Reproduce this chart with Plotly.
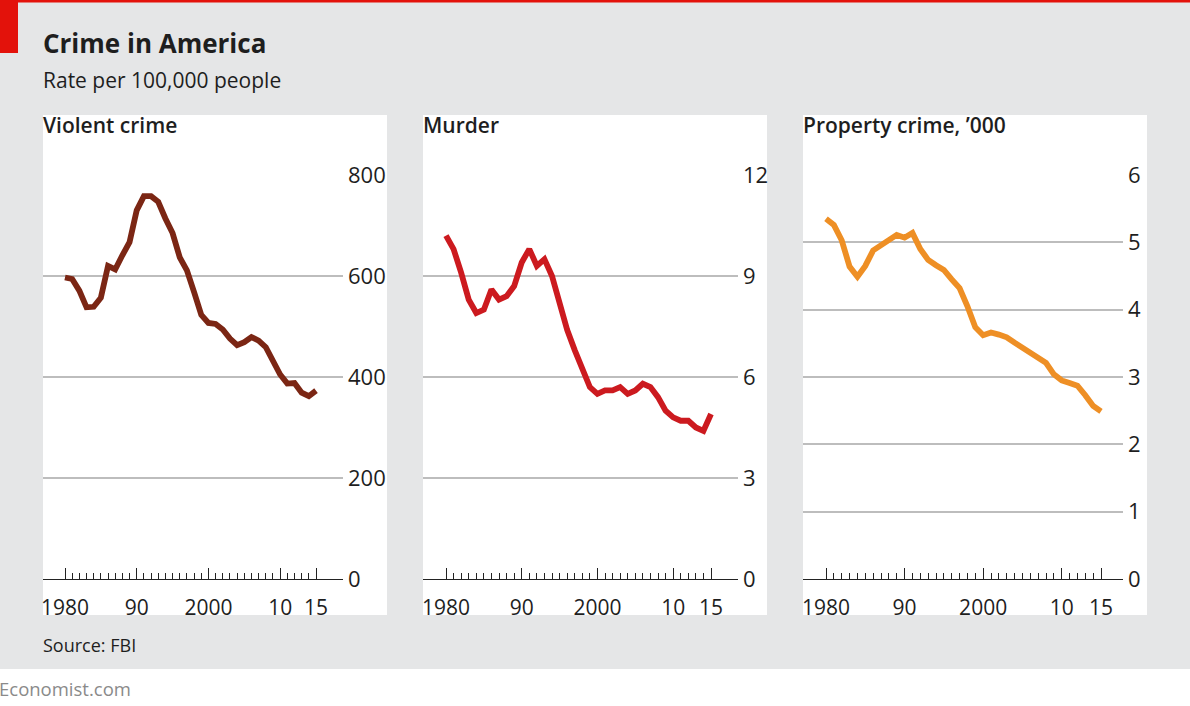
import plotly.graph_objects as go

W, H = 1190, 706

years = list(range(1980, 2016))

violent_crime = [597, 594, 571, 538, 539, 557, 620, 613, 641, 667,
                 730, 758, 758, 747, 714, 685, 637, 611, 568, 523,
                 507, 505, 494, 476, 463, 469, 479, 472, 459, 432,
                 405, 387, 388, 369, 362, 373]

murder = [10.2, 9.8, 9.1, 8.3, 7.9, 8.0, 8.6, 8.3, 8.4, 8.7,
          9.4, 9.8, 9.3, 9.5, 9.0, 8.2, 7.4, 6.8, 6.3, 5.7,
          5.5, 5.6, 5.6, 5.7, 5.5, 5.6, 5.8, 5.7, 5.4, 5.0,
          4.8, 4.7, 4.7, 4.5, 4.4, 4.9]

property_crime = [5.35, 5.26, 5.03, 4.64, 4.49, 4.65, 4.88, 4.96, 5.05, 5.11,
                  5.07, 5.14, 4.90, 4.74, 4.66, 4.59, 4.45, 4.32, 4.05, 3.74,
                  3.62, 3.66, 3.63, 3.59, 3.51, 3.43, 3.35, 3.28, 3.21, 3.04,
                  2.95, 2.91, 2.87, 2.73, 2.57, 2.49]

panel_titles = ["Violent crime", "Murder", "Property crime, \u2019000"]
y_ticks = [[0, 200, 400, 600, 800], [0, 3, 6, 9, 12], [0, 1, 2, 3, 4, 5, 6]]
y_max = [800, 12, 6]
x_tickvals = [1980, 1985, 1990, 1995, 2000, 2005, 2010, 2015]
x_ticktext = ["1980", "", "90", "", "2000", "", "10", "15"]
series = [violent_crime, murder, property_crime]
colors = ["#7b2614", "#cc1a1f", "#ee8f25"]

FONT = "Open Sans"
TXT = "#1e1e1e"

def px(x):
    return x / W

def py(y):
    return 1 - y / H

# panel geometry in pixels
panels = [
    dict(box=(43, 387), plot=(43, 343), a=(65, 316)),
    dict(box=(423, 767), plot=(423, 738), a=(446, 711)),
    dict(box=(803, 1147), plot=(803, 1123), a=(826, 1101)),
]
y_top, y_bot = 175, 579

fig = go.Figure()
shapes = []
annotations = []
layout = {}

for i, p in enumerate(panels):
    n = "" if i == 0 else str(i + 1)
    x0p, x1p = p["plot"]
    a0, a1 = p["a"]
    scale = (a1 - a0) / 35.0
    xr = [1980 - (a0 - x0p) / scale, 1980 + (x1p - a0) / scale]
    fig.add_trace(go.Scatter(
        x=years, y=series[i], mode="lines",
        line=dict(color=colors[i], width=5.8, shape="linear"),
        xaxis="x" + n, yaxis="y" + n, showlegend=False, hoverinfo="skip"))
    layout["xaxis" + n] = dict(
        domain=[px(x0p), px(x1p)], range=xr, anchor="y" + n, automargin=False,
        showgrid=False, zeroline=False, showline=True, linecolor="#222",
        linewidth=1.3, ticks="inside", ticklen=11, tickwidth=1.2, tickcolor="#222",
        tickmode="array", tickvals=x_tickvals, ticktext=x_ticktext,
        ticklabelstandoff=10,
        tickfont=dict(family=FONT, size=21, color=TXT),
        minor=dict(tickmode="array", tickvals=years, ticks="inside", ticklen=6,
                   tickwidth=1.1, tickcolor="#222", showgrid=False),
        fixedrange=True)
    layout["yaxis" + n] = dict(
        domain=[py(y_bot), py(y_top)], range=[0, y_max[i]], anchor="x" + n,
        automargin=False,
        side="right", showgrid=True, gridcolor="#bdbdbd", gridwidth=2,
        zeroline=False, showline=False, ticks="",
        tickmode="array", tickvals=y_ticks[i],
        ticklabelstandoff=4,
        tickfont=dict(family=FONT, size=22, color=TXT), fixedrange=True)
    bx0, bx1 = p["box"]
    shapes.append(dict(type="rect", xref="paper", yref="paper",
                       x0=px(bx0), x1=px(bx1), y0=py(615), y1=py(115),
                       fillcolor="white", line=dict(width=0), layer="below"))
    annotations.append(dict(text=panel_titles[i], xref="paper", yref="paper",
                            x=px(bx0 - 2), y=py(125), xanchor="left", yanchor="middle",
                            showarrow=False,
                            font=dict(family=FONT, size=21, color=TXT, weight=600)))

# background pieces
shapes += [
    dict(type="rect", xref="paper", yref="paper", x0=0, x1=1, y0=0, y1=py(669),
         fillcolor="white", line=dict(width=0), layer="below"),
    dict(type="rect", xref="paper", yref="paper", x0=0, x1=1, y0=py(2.5), y1=1,
         fillcolor="#e3120b", line=dict(width=0), layer="below"),
    dict(type="rect", xref="paper", yref="paper", x0=0, x1=px(18), y0=py(53), y1=1,
         fillcolor="#e3120b", line=dict(width=0), layer="below"),
]

annotations += [
    dict(text="Crime in America", xref="paper", yref="paper", x=px(41), y=py(43),
         xanchor="left", yanchor="middle", showarrow=False,
         font=dict(family=FONT, size=26, color=TXT, weight="bold")),
    dict(text="Rate per 100,000 people", xref="paper", yref="paper", x=px(41), y=py(80),
         xanchor="left", yanchor="middle", showarrow=False,
         font=dict(family=FONT, size=21, color=TXT)),
    dict(text="Source: FBI", xref="paper", yref="paper", x=px(41), y=py(645),
         xanchor="left", yanchor="middle", showarrow=False,
         font=dict(family=FONT, size=18, color=TXT)),
    dict(text="Economist.com", xref="paper", yref="paper", x=px(-3), y=py(688),
         xanchor="left", yanchor="middle", showarrow=False,
         font=dict(family=FONT, size=18.5, color="#8a8a8a")),
]

fig.update_layout(
    width=W, height=H, margin=dict(l=0, r=0, t=0, b=0, pad=0, autoexpand=False),
    paper_bgcolor="#e5e6e7", plot_bgcolor="rgba(0,0,0,0)",
    shapes=shapes, annotations=annotations, showlegend=False,
    **layout)

fig.write_html("out.html", config={"displayModeBar": False},
               post_script="document.body.style.margin='0';document.body.style.overflow='hidden';")
